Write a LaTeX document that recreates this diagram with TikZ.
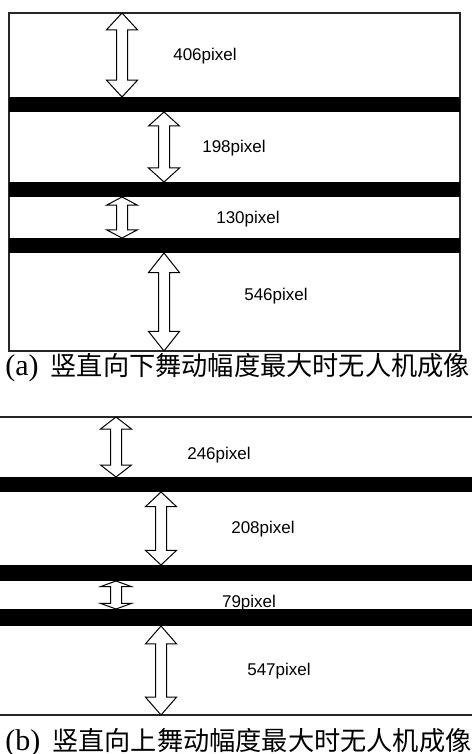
\documentclass[tikz,border=0pt]{standalone}
\usepackage{fontspec}
\setmainfont{Liberation Serif}
\newfontfamily\cjkfont{Noto Sans CJK SC}
\newfontfamily\pxfont{Liberation Sans}

\tikzset{
	bar/.style={fill=black, draw=none},
	frame/.style={line width=0.6pt, draw=black!85},
	pxlabel/.style={font=\pxfont\fontsize{8.5}{10}\selectfont, inner sep=0pt},
	caption/.style={font=\fontsize{15}{18}\selectfont, anchor=west, inner sep=0pt},
	spanarrow/.pic={
		\draw [line width=0.5pt, fill=white] (0,0) -- (15.5,{0.2*#1}) -- (5.5,{0.2*#1})
			-- (5.5,{0.8*#1}) -- (15.5,{0.8*#1}) -- (0,#1) -- (-15.5,{0.8*#1})
			-- (-5.5,{0.8*#1}) -- (-5.5,{0.2*#1}) -- (-15.5,{0.2*#1}) -- cycle;
	}
}

\begin{document}
\begin{tikzpicture}[x=0.5pt, y=-0.5pt]
	\useasboundingbox (0,0) rectangle (472,754);

	% (a) downward
	\draw [frame] (9,13) rectangle (460,351);
	\fill [bar] (9,97) rectangle (460,112);
	\fill [bar] (9,182) rectangle (460,197);
	\fill [bar] (9,238) rectangle (460,253);

	\pic at (122,13) {spanarrow=84};
	\pic at (164,112) {spanarrow=70};
	\pic at (122,197) {spanarrow=41};
	\pic at (164,253) {spanarrow=98};

	\node [pxlabel] (lbl406) at (205,56) {406pixel};
	\node [pxlabel] (lbl198) at (234,148) {198pixel};
	\node [pxlabel] (lbl130) at (248,219) {130pixel};
	\node [pxlabel] (lbl546) at (276,296) {546pixel};

	\node [caption] (capa) at (5,368) {(a)\hspace{6pt}{\cjkfont\fontsize{13.1}{16}\selectfont 竖直向下舞动幅度最大时无人机成像}};

	% (b) upward
	\draw [frame] (0,417) -- (472,417);
	\draw [frame] (0,715) -- (472,715);
	\fill [bar] (0,477) rectangle (472,492);
	\fill [bar] (0,565) rectangle (472,581);
	\fill [bar] (0,609) rectangle (472,626);

	\pic at (116,417) {spanarrow=60};
	\pic at (161,492) {spanarrow=73};
	\pic at (116,581) {spanarrow=28};
	\pic at (161,626) {spanarrow=89};

	\node [pxlabel] (lbl246) at (219,455) {246pixel};
	\node [pxlabel] (lbl208) at (263,529) {208pixel};
	\node [pxlabel] (lbl79) at (249,603) {79pixel};
	\node [pxlabel] (lbl547) at (279,671) {547pixel};

	\node [caption] (capb) at (5,743) {(b)\hspace{6pt}{\cjkfont\fontsize{13.1}{16}\selectfont 竖直向上舞动幅度最大时无人机成像}};
\end{tikzpicture}
\end{document}
